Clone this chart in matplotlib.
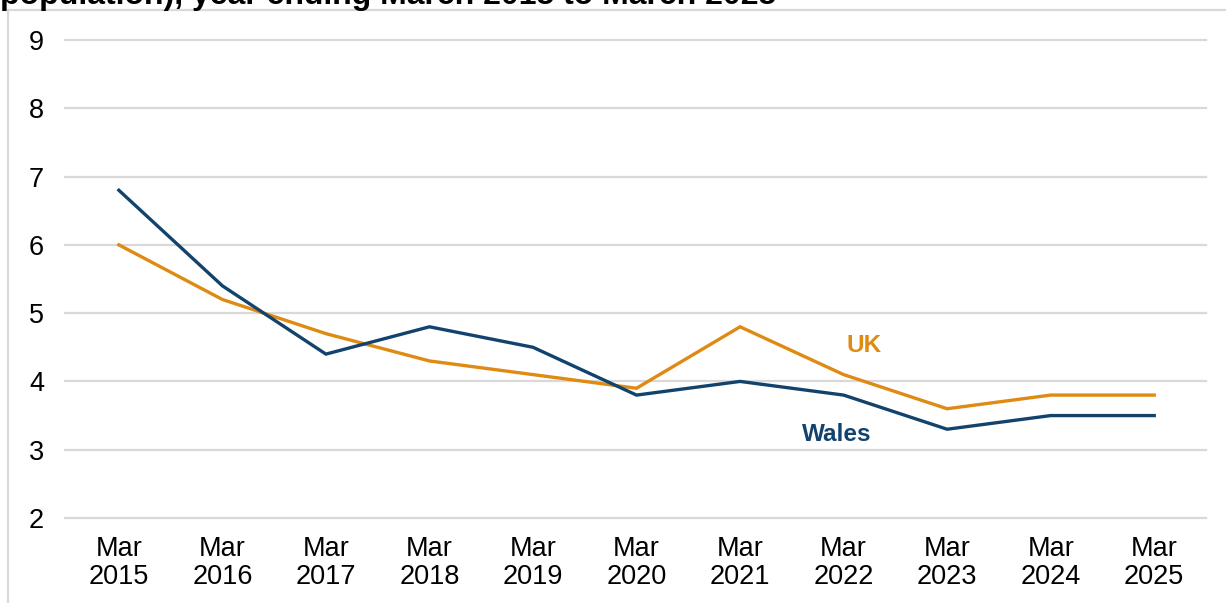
import matplotlib
matplotlib.use("Agg")
import matplotlib.pyplot as plt
from matplotlib.lines import Line2D

plt.rcParams['font.family'] = ['Liberation Sans', 'DejaVu Sans']

categories = ["Mar\n2015", "Mar\n2016", "Mar\n2017", "Mar\n2018", "Mar\n2019", "Mar\n2020",
              "Mar\n2021", "Mar\n2022", "Mar\n2023", "Mar\n2024", "Mar\n2025"]
wales = [6.8, 5.4, 4.4, 4.8, 4.5, 3.8, 4.0, 3.8, 3.3, 3.5, 3.5]
uk = [6.0, 5.2, 4.7, 4.3, 4.1, 3.9, 4.8, 4.1, 3.6, 3.8, 3.8]
yticks = [2, 3, 4, 5, 6, 7, 8, 9]
title = "population), year ending March 2015 to March 2025"

W, H = 1226, 603
fig = plt.figure(figsize=(W / 100, H / 100), dpi=100)
ax = fig.add_axes([65 / W, 1 - 518 / H, (1206 - 65) / W, (518 - 40) / H])

x = list(range(len(categories)))
uk_col = '#DF8A12'
wales_col = '#12436D'
ax.plot(x, uk, color=uk_col, lw=2.4, solid_joinstyle='miter', zorder=3)
ax.plot(x, wales, color=wales_col, lw=2.4, solid_joinstyle='miter', zorder=4)

ax.set_xlim(-0.52, 10.5)
ax.set_ylim(2, 9)
ax.set_yticks(yticks)
ax.set_yticklabels([str(v) for v in yticks])
ax.set_xticks(x)
ax.set_xticklabels(categories, linespacing=1.12)
for y in yticks:
    ax.axhline(y, color='#D9D9D9', lw=1.6, zorder=1, clip_on=False)
for s in ax.spines.values():
    s.set_visible(False)
ax.tick_params(axis='both', length=0, labelsize=19.5, colors='#000000')
ax.tick_params(axis='x', pad=13)
ax.tick_params(axis='y', pad=15)

ax.text(7.2, 4.52, "UK", color=uk_col, fontsize=17.5, fontweight='bold', ha='center', va='center')
ax.text(6.93, 3.22, "Wales", color=wales_col, fontsize=17.5, fontweight='bold', ha='center', va='center')

fig.text(0.0, 1 - 4 / H, title, fontsize=23, fontweight='bold', ha='left', va='baseline')

fig.add_artist(Line2D([8 / W, 1], [1 - 10 / H, 1 - 10 / H], color='#D9D9D9', lw=1.6, transform=fig.transFigure))
fig.add_artist(Line2D([8 / W, 8 / W], [0, 1 - 10 / H], color='#D9D9D9', lw=1.6, transform=fig.transFigure))

fig.savefig("out.png", dpi=100)
